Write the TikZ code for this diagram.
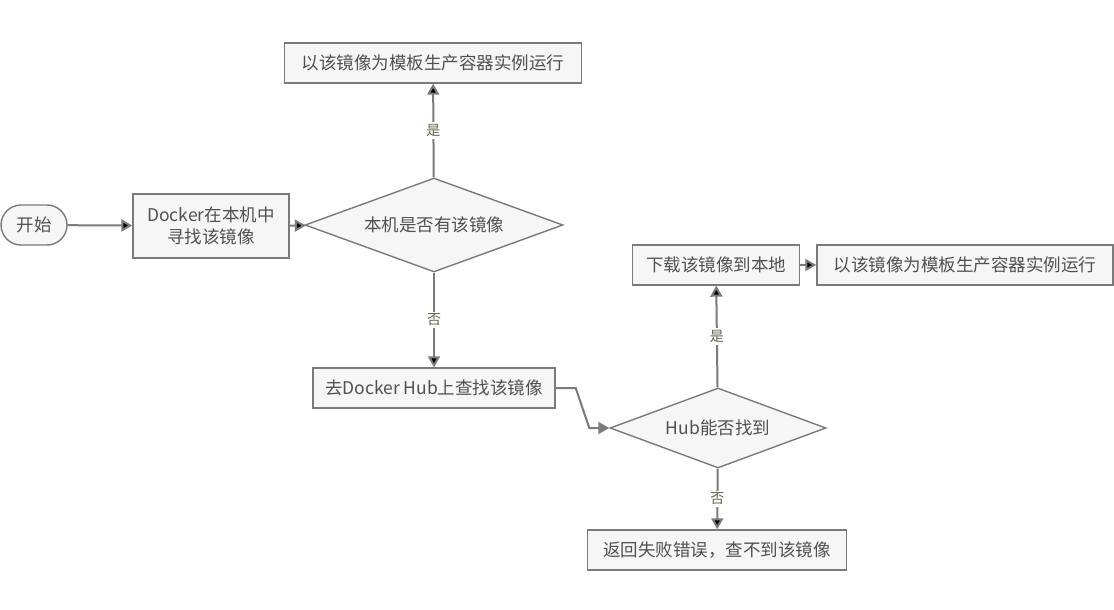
\documentclass[tikz,border=0pt]{standalone}
\usepackage{fontspec}
\setmainfont{Noto Sans CJK SC}
\usetikzlibrary{arrows.meta,shapes.geometric}

\definecolor{linegray}{RGB}{122,122,122}
\definecolor{boxfill}{RGB}{246,246,246}
\definecolor{txtgray}{RGB}{80,80,80}
\definecolor{lblcol}{RGB}{105,98,72}

\begin{document}
\begin{tikzpicture}[x=1pt, y=-1pt,
    every node/.style={text=txtgray, font=\fontsize{17.5pt}{22pt}\selectfont},
    conn/.style={draw=linegray, line width=2pt, -{Triangle[width=12pt,length=11pt]}},
    box/.style={rectangle, draw=linegray, fill=boxfill, line width=1.4pt, minimum height=40pt, inner sep=3pt, align=center},
    term/.style={box, rounded corners=20pt},
    test/.style={diamond, draw=linegray, fill=boxfill, line width=1.4pt, inner sep=0pt, aspect=2.75},
    lbl/.style={fill=white, text=lblcol, inner sep=2pt, font=\fontsize{14pt}{16pt}\selectfont}]
    \useasboundingbox (0,0) rectangle (1114,610);

    % Nodes
    \node [term, minimum width=66pt]              (start)     at (34,225)  {开始};
    \node [box, minimum width=156pt, minimum height=64pt] (search) at (211,226) {Docker在本机中\\寻找该镜像};
    \node [test, minimum width=258pt, minimum height=94pt] (haslocal) at (434,225) {本机是否有该镜像};
    \node [box, minimum width=297pt]              (runlocal)  at (433,63)  {以该镜像为模板生产容器实例运行};
    \node [box, minimum width=242pt]              (hubsearch) at (434,388) {去Docker Hub上查找该镜像};
    \node [test, minimum width=216pt, minimum height=80pt] (hubfound) at (718,428) {Hub能否找到};
    \node [box, minimum width=167pt]              (pull)      at (716,265) {下载该镜像到本地};
    \node [box, minimum width=296pt]              (runpulled) at (965,265) {以该镜像为模板生产容器实例运行};
    \node [box, minimum width=259pt]              (notfound)  at (717,550) {返回失败错误，查不到该镜像};

    % Paths
    \path [conn] (start)     edge                       (search);
    \path [conn] (search)    edge                       (haslocal);
    \path [conn] (haslocal)  edge node [lbl] {是}       (runlocal);
    \path [conn] (haslocal)  edge node [lbl] {否}       (hubsearch);
    \draw [conn] (hubsearch.east) -- ++(20,0) -- ([xshift=-20pt]hubfound.west) -- (hubfound.west);
    \path [conn] (hubfound)  edge node [lbl] {是}       (pull);
    \path [conn] (pull)      edge                       (runpulled);
    \path [conn] (hubfound)  edge node [lbl] {否}       (notfound);

\end{tikzpicture}
\end{document}
